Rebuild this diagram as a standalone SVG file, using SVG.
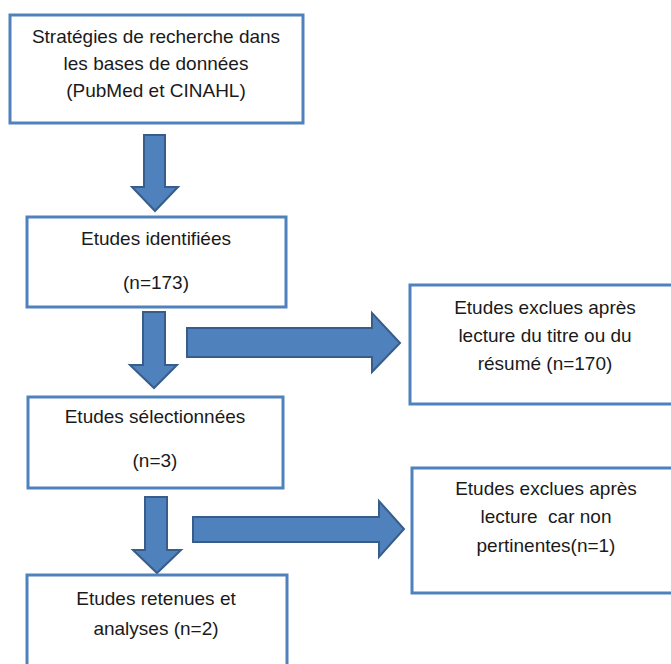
<svg xmlns="http://www.w3.org/2000/svg" width="671" height="664" viewBox="0 0 671 664">
<style>
.box{fill:#fff;stroke:#4F81BD;stroke-width:3}
.arr{fill:#4F81BD;stroke:#385D8A;stroke-width:2;stroke-linejoin:miter}
text{font-family:"Liberation Sans",Arial,sans-serif;font-size:19px;fill:#1a1a1a;text-anchor:middle}
</style>
<rect width="671" height="664" fill="#fff"/>
<g id="connectors">
<polygon class="arr" points="144,135 165,135 165,187 178,187 155,211 132,187 144,187"/>
<polygon class="arr" points="143,312 165,312 165,365 177,365 154,388 130,365 143,365"/>
<polygon class="arr" points="145,497 167,497 167,550 181,550 157,573 133,550 145,550"/>
<polygon class="arr" points="187,328 372,328 372,313 400,343 372,372 372,357 187,357"/>
<polygon class="arr" points="193,517 379,517 379,501 404,529 379,557 379,542 193,542"/>
</g>
<g id="n1">
<rect class="box" x="10" y="15" width="293" height="108"/>
<text x="156" y="43">Stratégies de recherche dans</text>
<text x="156" y="70">les bases de données</text>
<text x="156" y="97">(PubMed et CINAHL)</text>
</g>
<g id="n2">
<rect class="box" x="27" y="217" width="259" height="90"/>
<text x="156" y="245">Etudes identifiées</text>
<text x="156" y="289">(n=173)</text>
</g>
<g id="n3">
<rect class="box" x="410" y="285" width="270" height="119"/>
<text x="545" y="314">Etudes exclues après</text>
<text x="545" y="342">lecture du titre ou du</text>
<text x="545" y="370">résumé (n=170)</text>
</g>
<g id="n4">
<rect class="box" x="28" y="397" width="255" height="91"/>
<text x="155" y="423">Etudes sélectionnées</text>
<text x="155" y="467">(n=3)</text>
</g>
<g id="n5">
<rect class="box" x="27" y="575" width="260" height="100"/>
<text x="156" y="605">Etudes retenues et</text>
<text x="156" y="635">analyses (n=2)</text>
</g>
<g id="n6">
<rect class="box" x="412" y="468" width="268" height="125"/>
<text x="546" y="495">Etudes exclues après</text>
<text x="546" y="523" xml:space="preserve">lecture  car non</text>
<text x="546" y="552">pertinentes(n=1)</text>
</g>
</svg>
